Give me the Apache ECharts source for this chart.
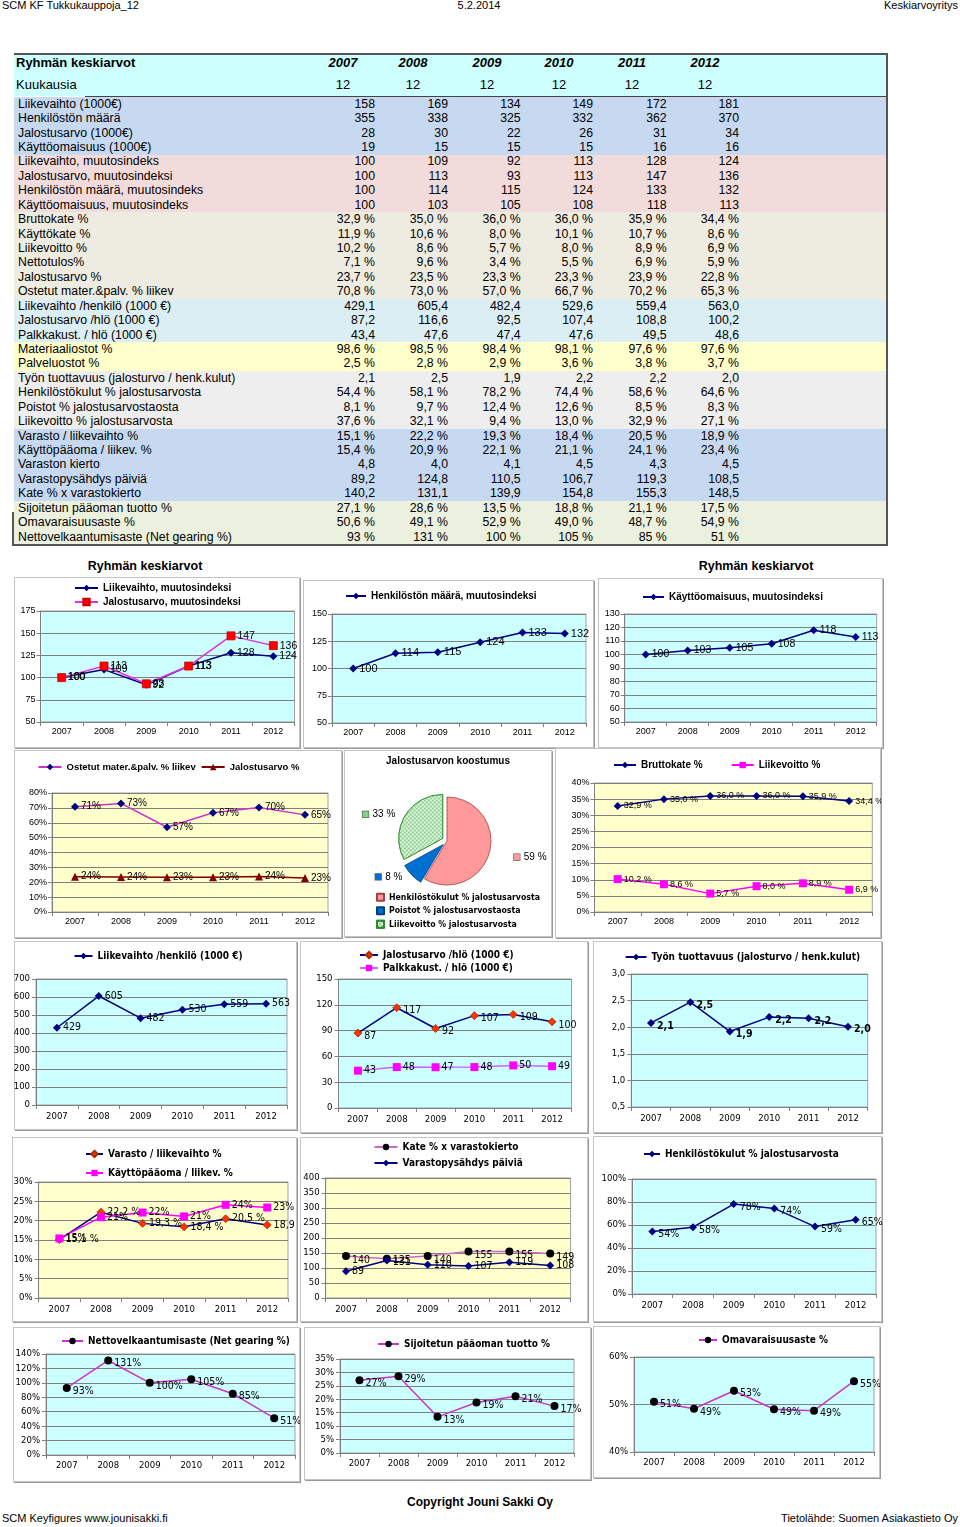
<!DOCTYPE html>
<html><head><meta charset="utf-8">
<script src="https://cdn.jsdelivr.net/npm/echarts@6/dist/echarts.min.js"></script>
<style>
html,body{margin:0;padding:0}
body{width:960px;height:1527px;position:relative;background:#fff;font-family:"Liberation Sans",Arial,sans-serif;overflow:hidden;color:#000}
.t{position:absolute;white-space:nowrap}
.box{position:absolute;border:1px solid #c4c4c4;box-shadow:1px 1px 0 #9a9a9a;background:#fff;box-sizing:border-box}
.ch{position:absolute}
</style></head><body>
<script>
// ---------- DATA ----------
const years = ['2007','2008','2009','2010','2011','2012'];
const months = [12,12,12,12,12,12];
const liikevaihto = [158,169,134,149,172,181];
const henkilosto = [355,338,325,332,362,370];
const jalostusarvo = [28,30,22,26,31,34];
const kayttoomaisuus = [19,15,15,15,16,16];
const liikevaihtoIdx = [100,109,92,113,128,124];
const jalostusarvoIdx = [100,113,93,113,147,136];
const henkilostoIdx = [100,114,115,124,133,132];
const kayttoomaisuusIdx = [100,103,105,108,118,113];
const bruttokatePct = [32.9,35.0,36.0,36.0,35.9,34.4];
const kayttokatePct = [11.9,10.6,8.0,10.1,10.7,8.6];
const liikevoittoPct = [10.2,8.6,5.7,8.0,8.9,6.9];
const nettotulosPct = [7.1,9.6,3.4,5.5,6.9,5.9];
const jalostusarvoPct = [23.7,23.5,23.3,23.3,23.9,22.8];
const ostetutPct = [70.8,73.0,57.0,66.7,70.2,65.3];
const liikevaihtoHlo = [429.1,605.4,482.4,529.6,559.4,563.0];
const jalostusarvoHlo = [87.2,116.6,92.46,107.4,108.8,100.2];
const palkkakustHlo = [43.4,47.6,47.4,47.6,49.5,48.6];
const materiaaliostotPct = [98.6,98.5,98.4,98.1,97.6,97.6];
const palveluostotPct = [2.5,2.8,2.9,3.6,3.8,3.7];
const tyonTuottavuus = [2.1,2.5,1.9,2.2,2.2,2.0];
const tyonTuottavuusChart = [2.08,2.47,1.92,2.19,2.17,2.01];
const henkilostokulutPct = [54.4,58.1,78.2,74.4,58.6,64.6];
const poistotPct = [8.1,9.7,12.4,12.6,8.46,8.3];
const liikevoittoJalPct = [37.6,32.1,9.4,13.0,32.9,27.1];
const varastoPct = [15.1,22.2,19.3,18.4,20.5,18.9];
const kayttopaaomaPct = [15.4,20.9,22.1,21.1,24.1,23.4];
const varastonKierto = [4.8,4.0,4.1,4.5,4.3,4.5];
const varastopysahdys = [89.2,124.8,110.46,106.7,119.3,108.46];
const kateKierto = [140.2,131.1,139.9,154.8,155.3,148.5];
const sijoitettuPct = [27.1,28.6,13.46,18.8,21.1,17.46];
const omavaraisuusPct = [50.6,49.1,52.9,49.0,48.7,54.9];
const nettovelkaPct = [93,131,100,105,85,51];
const pieNames = ['Henkilöstökulut % jalostusarvosta','Poistot % jalostusarvostaosta','Liikevoitto % jalostusarvosta'];
const pieYear = 4; // 2011
const pieShares = [henkilostokulutPct[pieYear], poistotPct[pieYear], liikevoittoJalPct[pieYear]];

// ---------- helpers ----------
const c1 = v => v.toFixed(1).replace('.',',');
const F = {
  i: v => String(v),
  d1: v => c1(v),
  p1: v => c1(v)+' %',
  p0: v => v+' %'
};
function txt(x,y,s,o={}){
  const d=document.createElement('div');
  d.className='t';
  const fs=o.fs||12.5, h=fs*1.3;
  d.textContent=s;
  d.style.fontSize=fs+'px';
  d.style.lineHeight=h+'px';
  d.style.top=(y-h/2)+'px';
  if(o.bold) d.style.fontWeight='bold';
  if(o.italic) d.style.fontStyle='italic';
  if(o.ff) d.style.fontFamily=o.ff;
  if(o.align==='right'){ d.style.right=(960-x)+'px'; d.style.textAlign='right'; }
  else if(o.align==='center'){ d.style.left=(x-150)+'px'; d.style.width='300px'; d.style.textAlign='center'; }
  else d.style.left=x+'px';
  document.body.appendChild(d);
}
function rect(x,y,w,h,bg){
  const d=document.createElement('div');
  d.style.cssText=`position:absolute;left:${x}px;top:${y}px;width:${w}px;height:${h}px;background:${bg}`;
  document.body.appendChild(d);
}

// ---------- page header / footer ----------
txt(2,5,'SCM KF Tukkukauppoja_12',{fs:11});
txt(479,5,'5.2.2014',{fs:11,align:'center'});
txt(958,5,'Keskiarvoyritys',{fs:11,align:'right'});
txt(480,1503,'Copyright Jouni Sakki Oy',{fs:12,bold:true,align:'center'});
txt(2,1518,'SCM Keyfigures www.jounisakki.fi',{fs:11});
txt(958,1518,'Tietolähde: Suomen Asiakastieto Oy',{fs:11,align:'right'});

// ---------- table ----------
const colCenters=[343,413,487,559,632,705];
const colRights=[375,448,520.7,593,666.7,739];
const G1='#c6d9f0',G2='#f2dcdb',G3='#eeece1',G4='#dbeef3',G5='#ffffcc',G6='#eeeeee',G7='#c6d9f0',G8='#ebf1de';
const rows=[
 ['Liikevaihto (1000€)',liikevaihto,'i',G1],
 ['Henkilöstön määrä',henkilosto,'i',G1],
 ['Jalostusarvo (1000€)',jalostusarvo,'i',G1],
 ['Käyttöomaisuus (1000€)',kayttoomaisuus,'i',G1],
 ['Liikevaihto, muutosindeks',liikevaihtoIdx,'i',G2],
 ['Jalostusarvo, muutosindeksi',jalostusarvoIdx,'i',G2],
 ['Henkilöstön määrä, muutosindeks',henkilostoIdx,'i',G2],
 ['Käyttöomaisuus, muutosindeks',kayttoomaisuusIdx,'i',G2],
 ['Bruttokate %',bruttokatePct,'p1',G3],
 ['Käyttökate %',kayttokatePct,'p1',G3],
 ['Liikevoitto %',liikevoittoPct,'p1',G3],
 ['Nettotulos%',nettotulosPct,'p1',G3],
 ['Jalostusarvo %',jalostusarvoPct,'p1',G3],
 ['Ostetut mater.&palv. % liikev',ostetutPct,'p1',G3],
 ['Liikevaihto /henkilö (1000 €)',liikevaihtoHlo,'d1',G4],
 ['Jalostusarvo /hlö (1000 €)',jalostusarvoHlo,'d1',G4],
 ['Palkkakust. / hlö (1000 €)',palkkakustHlo,'d1',G4],
 ['Materiaaliostot  %',materiaaliostotPct,'p1',G5],
 ['Palveluostot  %',palveluostotPct,'p1',G5],
 ['Työn tuottavuus (jalosturvo / henk.kulut)',tyonTuottavuus,'d1',G6],
 ['Henkilöstökulut % jalostusarvosta',henkilostokulutPct,'p1',G6],
 ['Poistot % jalostusarvostaosta',poistotPct,'p1',G6],
 ['Liikevoitto % jalostusarvosta',liikevoittoJalPct,'p1',G6],
 ['Varasto / liikevaihto %',varastoPct,'p1',G7],
 ['Käyttöpääoma / liikev. %',kayttopaaomaPct,'p1',G7],
 ['Varaston kierto',varastonKierto,'d1',G7],
 ['Varastopysähdys päiviä',varastopysahdys,'d1',G7],
 ['Kate % x varastokierto',kateKierto,'d1',G7],
 ['Sijoitetun pääoman tuotto %',sijoitettuPct,'p1',G8],
 ['Omavaraisuusaste %',omavaraisuusPct,'p1',G8],
 ['Nettovelkaantumisaste (Net gearing %)',nettovelkaPct,'p0',G8]
];
rect(14,54,874,42,'#ccfffe');
const RH=14.43, R0=97;
rows.forEach((r,i)=>{ rect(14,R0+i*RH,873,RH+0.5,r[3]); });
rect(14,53,874,2,'#555');
rect(85,96,803,1,'#444');
rect(886,53,2,492,'#555');
rect(12,544,876,2,'#555');
rect(12,512,1.5,33,'#555');
txt(16,63,'Ryhmän keskiarvot',{fs:13,bold:true});
txt(16,85,'Kuukausia',{fs:13});
years.forEach((y,j)=>{ txt(colCenters[j],63,y,{fs:13,bold:true,italic:true,align:'center'}); txt(colCenters[j],85,String(months[j]),{fs:13,align:'center'}); });
rows.forEach((r,i)=>{
  const cy=R0+i*RH+RH/2+0.5;
  txt(18,cy,r[0],{fs:12.3});
  r[1].forEach((v,j)=>txt(colRights[j],cy,F[r[2]](v),{fs:12.3,align:'right'}));
});
txt(145,566,'Ryhmän keskiarvot',{fs:12.5,bold:true,align:'center'});
txt(756,566,'Ryhmän keskiarvot',{fs:12.5,bold:true,align:'center'});

// ---------- charts ----------
const NAVY='#000080',MAG='#ff00ff',VIO='#cc33cc',CYAN='#ccffff',YEL='#ffffcc',ORG='#ff3300';
const FF='"Liberation Sans", Arial, sans-serif';
const FFN='"Liberation Sans Narrow", "Arial Narrow", "DejaVu Sans Condensed", "Liberation Sans", sans-serif';
const pct0 = v => Math.round(v)+'%';
const int0 = v => String(Math.round(v));

function mkBox(b){
  const d=document.createElement('div'); d.className='box';
  d.style.left=b[0]+'px'; d.style.top=b[1]+'px'; d.style.width=(b[2]-b[0])+'px'; d.style.height=(b[3]-b[1])+'px';
  document.body.appendChild(d);
  const e=document.createElement('div'); e.className='ch';
  e.style.left=b[0]+'px'; e.style.top=b[1]+'px'; e.style.width=(b[2]-b[0])+'px'; e.style.height=(b[3]-b[1])+'px';
  document.body.appendChild(e);
  return e;
}

function lineChart(box,c){
  const [x0,y0,x1,y1]=box;
  const el=mkBox(box);
  const ch=echarts.init(el,null,{width:x1-x0,height:y1-y0});
  const [l,t,r,b]=c.plot;
  const ff=c.ff, lfs=c.legFs, lh=lfs+2;
  const series=c.series.map(s=>({
    type:'line', name:s.name, data:s.data, symbol:s.symbol, symbolSize:s.size||8,
    lineStyle:{color:s.line,width:s.lw||1.5},
    itemStyle:{color:s.fill,borderColor:s.edge||s.fill,borderWidth:s.edge?0.8:0},
    label:{show:true,position:'right',distance:s.dist==null?2:s.dist,offset:s.off||[0,0],
      formatter:p=>s.fmt(p.value),fontFamily:ff,fontSize:c.dfs,color:'#000',fontWeight:s.bold?'bold':'normal'},
    emphasis:{disabled:true}, silent:true, animation:false, clip:false
  }));
  ch.setOption({
    animation:false,
    grid:{left:l-x0,top:t-y0,width:r-l,height:b-t,show:true,backgroundColor:c.bg,borderColor:'#a0a0a0',borderWidth:1,containLabel:false,outerBoundsMode:'none'},
    legend:{orient:c.leg.orient||'horizontal',left:c.leg.left-x0,top:c.leg.cy-y0-lh/2,padding:0,
      itemWidth:c.leg.iw,itemHeight:8,itemGap:c.leg.gap==null?2:c.leg.gap,selectedMode:false,
      textStyle:{fontFamily:ff,fontSize:lfs,fontWeight:'bold',color:'#000',lineHeight:lh},
      data:c.series.map(s=>s.name)},
    xAxis:{type:'category',data:years,boundaryGap:true,
      axisLine:{show:true,lineStyle:{color:'#808080',width:1}},
      axisTick:{show:true,length:4,lineStyle:{color:'#808080'}},
      splitLine:{show:false},
      axisLabel:{fontFamily:ff,fontSize:c.afs,color:'#000',margin:c.xm||5,interval:0}},
    yAxis:{type:'value',min:c.y[0],max:c.y[1],interval:c.y[2],
      axisLine:{show:true,lineStyle:{color:'#808080',width:1}},
      axisTick:{show:true,length:4,lineStyle:{color:'#808080'}},
      splitLine:{show:true,lineStyle:{color:'#808080',width:1}},
      axisLabel:{fontFamily:ff,fontSize:c.afs,color:'#000',margin:c.ym||5,formatter:c.yf||(v=>String(v))}},
    series
  });
}

// Row 1
lineChart([14,577,300,748],{plot:[40.5,611,294.5,722],y:[50,175,25],bg:CYAN,ff:FF,afs:9,dfs:10.5,legFs:10,
  leg:{orient:'vertical',left:74,cy:588,iw:23,gap:2},
  series:[
    {name:'Liikevaihto, muutosindeksi',data:liikevaihtoIdx,symbol:'diamond',size:8,line:NAVY,fill:NAVY,fmt:int0},
    {name:'Jalostusarvo, muutosindeksi',data:jalostusarvoIdx,symbol:'rect',size:8,line:'#e030e0',fill:'#ff0000',edge:'#cc0000',fmt:int0}
  ]});
lineChart([303,580,594,748],{plot:[332,614,586,723],y:[50,150,25],bg:CYAN,ff:FF,afs:9,dfs:11,legFs:10,
  leg:{left:345,cy:596,iw:20},
  series:[{name:'Henkilöstön määrä, muutosindeksi',data:henkilostoIdx,symbol:'diamond',size:8,line:NAVY,fill:NAVY,fmt:int0}]});
lineChart([598,578,883,748],{plot:[624.7,614,876.7,722],y:[50,130,10],bg:CYAN,ff:FF,afs:9,dfs:10.5,legFs:10,
  leg:{left:642,cy:597,iw:21},
  series:[{name:'Käyttöomaisuus, muutosindeksi',data:kayttoomaisuusIdx,symbol:'diamond',size:8,line:NAVY,fill:NAVY,fmt:int0}]});

// Row 2
lineChart([14,750,342,938],{plot:[52,793,328,912],y:[0,80,10],yf:v=>v+'%',bg:YEL,ff:FF,afs:9,dfs:10,legFs:9.5,
  leg:{left:37.5,cy:767,iw:23,gap:5},
  series:[
    {name:'Ostetut mater.&palv. % liikev',data:ostetutPct,symbol:'diamond',size:8,line:VIO,fill:NAVY,fmt:pct0},
    {name:'Jalostusarvo %',data:jalostusarvoPct,symbol:'triangle',size:8,line:'#800000',fill:'#800000',fmt:pct0}
  ]});
lineChart([555,748,881,938],{plot:[594.5,783,872.3,912],y:[0,40,5],yf:v=>v+'%',bg:YEL,ff:FF,afs:9,dfs:9,legFs:10,
  leg:{left:613,cy:765,iw:22,gap:28},
  series:[
    {name:'Bruttokate %',data:bruttokatePct,symbol:'diamond',size:8,line:NAVY,fill:NAVY,fmt:F.p1},
    {name:'Liikevoitto %',data:liikevoittoPct,symbol:'rect',size:8,line:MAG,fill:MAG,fmt:F.p1}
  ]});

// Pie
(function(){
  const box=[344,750,552,937];
  const el=mkBox(box);
  const ch=echarts.init(el,null,{width:box[2]-box[0],height:box[3]-box[1]});
  const cols=['#ff9999','#0070d0','#88d088'];
  const rich={};
  cols.forEach((c,i)=>{ rich['k'+i]={width:6,height:6,backgroundColor:c,borderColor:'#555',borderWidth:0.6}; });
  rich.v={fontFamily:FF,fontSize:10,color:'#000',padding:[0,0,0,4]};
  const lines=[{length:16,length2:4},{length:3,length2:2},{length:3,length2:2}];
  ch.setOption({
    animation:false,
    title:{text:'Jalostusarvon koostumus',left:'center',top:6,padding:0,
      textStyle:{fontFamily:FF,fontSize:10,fontWeight:'bold',color:'#000'}},
    legend:{orient:'vertical',left:32,top:142,padding:0,itemWidth:7,itemHeight:7,itemGap:3,icon:'rect',selectedMode:false,
      textStyle:{fontFamily:FFN,fontSize:8.7,fontWeight:'bold',color:'#000',lineHeight:10.5},data:pieNames},
    series:[{type:'pie',center:[103,91],radius:44,startAngle:90,clockwise:true,
      selectedMode:'multiple',selectedOffset:5,silent:true,emphasis:{disabled:true},
      label:{show:true,position:'outside',formatter:p=>`{k${p.dataIndex}|}{v|${Math.round(p.value)} %}`,rich},
      labelLine:{show:false,length:4,length2:2},
      data:pieNames.map((n,i)=>({name:n,value:pieShares[i],selected:i>0,
        labelLine:Object.assign({show:false},lines[i]),
        itemStyle:Object.assign({color:cols[i],borderColor:i===0?'#a04040':(i===1?'#004080':'#2e8b2e'),borderWidth:0.8},
          i===2?{decal:{symbol:'rect',symbolSize:1,color:'rgba(255,255,255,0.85)',dashArrayX:[[2,2],[0,2,2,0]],dashArrayY:[2,0]}}:{})}))
    }]
  });
})();

// Row 3
lineChart([14,941,297,1130],{plot:[36,979,287,1105],y:[0,700,100],bg:CYAN,ff:FFN,afs:9.5,dfs:10.5,legFs:10,xm:7,ym:6,
  leg:{left:73.5,cy:956,iw:18},
  series:[{name:'Liikevaihto /henkilö (1000 €)',data:liikevaihtoHlo,symbol:'diamond',size:8,line:NAVY,fill:NAVY,fmt:int0}]});
lineChart([300,941,588,1133],{plot:[338.5,979,571.5,1108],y:[0,150,30],bg:CYAN,ff:FFN,afs:9.5,dfs:10.5,legFs:10,xm:7,ym:6,
  leg:{orient:'vertical',left:359,cy:955,iw:18,gap:1},
  series:[
    {name:'Jalostusarvo /hlö (1000 €)',data:jalostusarvoHlo,symbol:'diamond',size:8,line:NAVY,fill:ORG,edge:'#a03000',fmt:int0,off:[0,3]},
    {name:'Palkkakust. / hlö (1000 €)',data:palkkakustHlo,symbol:'rect',size:8,line:'#cc66ff',fill:MAG,fmt:int0}
  ]});
lineChart([593,941,882,1133],{plot:[631.3,974,867.7,1107],y:[0.5,3.0,0.5],yf:v=>c1(v),bg:CYAN,ff:FFN,afs:9.5,dfs:10.5,legFs:10,xm:7,ym:6,
  leg:{left:624.6,cy:957,iw:21},
  series:[{name:'Työn tuottavuus (jalosturvo / henk.kulut)',data:tyonTuottavuusChart,symbol:'diamond',size:8,line:NAVY,fill:NAVY,fmt:c1,bold:true,off:[0,3]}]});

// Row 4
lineChart([12,1137,297,1322],{plot:[38.6,1182,288,1298],y:[0,30,5],yf:v=>v+'%',bg:YEL,ff:FFN,afs:9.5,dfs:10.5,legFs:10,xm:7,ym:6,
  leg:{orient:'vertical',left:85,cy:1154,iw:17,gap:7},
  series:[
    {name:'Varasto / liikevaihto %',data:varastoPct,symbol:'diamond',size:8,line:NAVY,fill:ORG,edge:'#a03000',fmt:F.p1},
    {name:'Käyttöpääoma / liikev. %',data:kayttopaaomaPct,symbol:'rect',size:8,line:MAG,fill:MAG,fmt:pct0}
  ]});
lineChart([300,1137,588,1322],{plot:[325.6,1178,570.6,1298],y:[0,400,50],bg:YEL,ff:FFN,afs:9.5,dfs:10.5,legFs:10,xm:7,ym:6,
  leg:{orient:'vertical',left:373.5,cy:1147,iw:23,gap:4},
  series:[
    {name:'Kate % x varastokierto',data:kateKierto,symbol:'circle',size:8,line:'#cc66cc',fill:'#000',fmt:int0,off:[0,4]},
    {name:'Varastopysähdys päiviä',data:varastopysahdys,symbol:'diamond',size:8,line:NAVY,fill:NAVY,fmt:int0}
  ]});
lineChart([593,1136,882,1322],{plot:[632,1179,876,1294],y:[0,100,20],yf:v=>v+'%',bg:CYAN,ff:FFN,afs:9.5,dfs:10.5,legFs:10,xm:7,ym:6,
  leg:{left:643,cy:1154,iw:16},
  series:[{name:'Henkilöstökulut % jalostusarvosta',data:henkilostokulutPct,symbol:'diamond',size:8,line:NAVY,fill:NAVY,fmt:pct0,off:[0,3]}]});

// Row 5
lineChart([13,1327,300,1482],{plot:[46,1354,295,1455],y:[0,140,20],yf:v=>v+'%',bg:CYAN,ff:FFN,afs:9.5,dfs:10.5,legFs:10,xm:6,ym:6,
  leg:{left:61,cy:1341,iw:21},
  series:[{name:'Nettovelkaantumisaste (Net gearing %)',data:nettovelkaPct,symbol:'circle',size:8,line:VIO,fill:'#000',fmt:pct0,off:[0,3]}]});
lineChart([304,1327,591,1480],{plot:[340,1359,574,1453],y:[0,35,5],yf:v=>v+'%',bg:CYAN,ff:FFN,afs:9.5,dfs:10.5,legFs:10,xm:6,ym:6,
  leg:{left:377,cy:1344,iw:21},
  series:[{name:'Sijoitetun pääoman tuotto %',data:sijoitettuPct,symbol:'circle',size:8,line:VIO,fill:'#000',fmt:pct0,off:[0,3]}]});
lineChart([593,1326,880,1478],{plot:[634,1357,874,1452],y:[40,60,10],yf:v=>v+'%',bg:CYAN,ff:FFN,afs:9.5,dfs:10.5,legFs:10,xm:6,ym:6,
  leg:{left:698,cy:1340,iw:18},
  series:[{name:'Omavaraisuusaste %',data:omavaraisuusPct,symbol:'circle',size:8,line:VIO,fill:'#000',fmt:pct0,off:[0,3]}]});
</script>
</body></html>
